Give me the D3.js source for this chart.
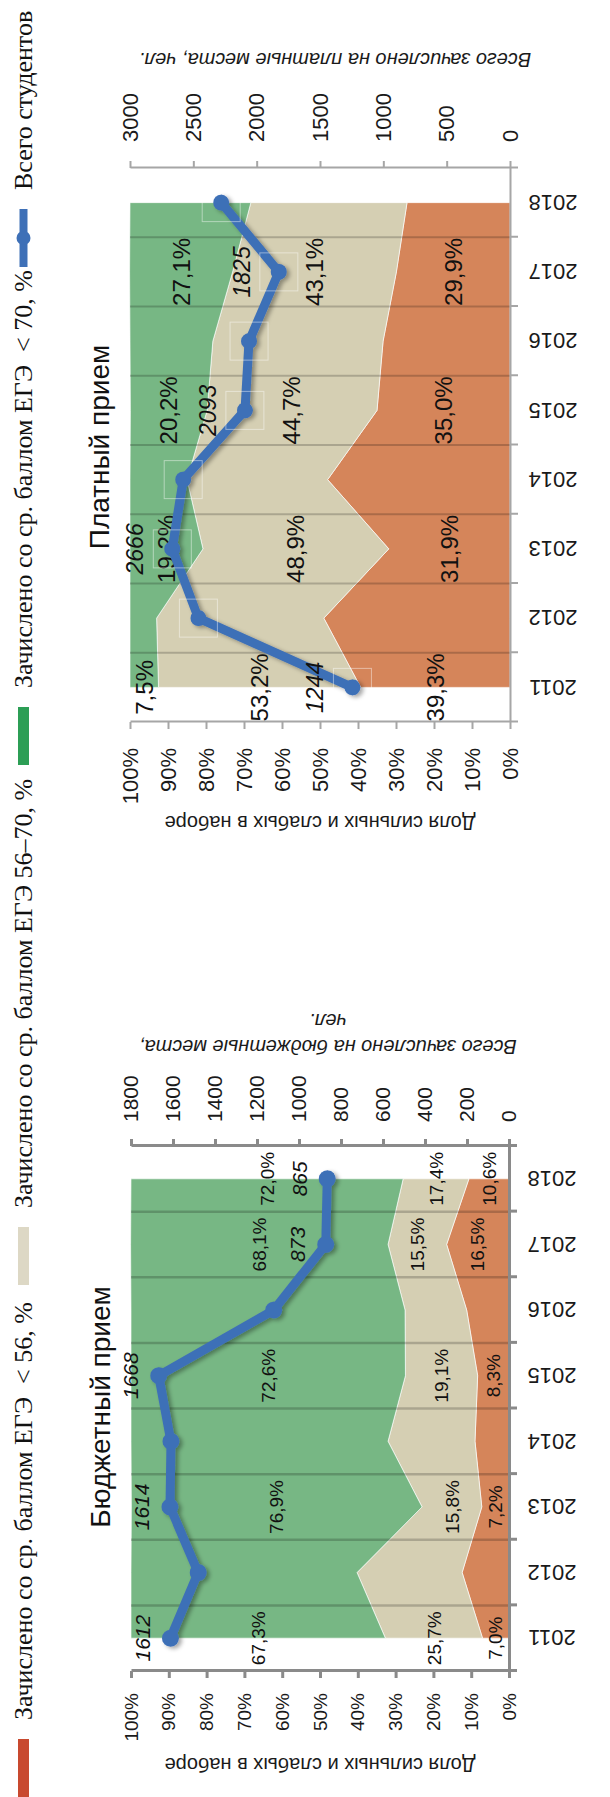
<!DOCTYPE html>
<html><head><meta charset="utf-8">
<script src="https://cdn.jsdelivr.net/npm/d3@7"></script>
<style>body{margin:0;background:#fff}svg{display:block}</style>
</head><body>
<svg id="c" width="610" height="1797"></svg>
<script>
// ---------- data ----------
const years = ["2011","2012","2013","2014","2015","2016","2017","2018"];
const budgetLow   = [7.0, 12.4, 7.2, 9.0, 8.3, 11.2, 16.5, 10.6];
const budgetMid   = [25.7, 27.8, 15.8, 23.0, 19.1, 16.3, 15.5, 17.4];
const budgetHigh  = [67.3, 59.8, 76.9, 68.0, 72.6, 72.5, 68.1, 72.0];
const budgetTotal = [1612, 1480, 1614, 1610, 1668, 1120, 873, 865];
const paidLow   = [39.3, 49.0, 31.9, 48.0, 35.0, 33.4, 29.9, 27.1];
const paidMid   = [53.2, 44.0, 48.9, 37.0, 44.7, 44.8, 43.1, 41.1];
const paidHigh  = [7.5, 7.0, 19.2, 15.0, 20.2, 21.8, 27.1, 31.8];
const paidTotal = [1244, 2460, 2666, 2580, 2093, 2060, 1825, 2280];
const budgetLabelYears = ["2011","2013","2015","2017","2018"];
const paidLabelYears = ["2011","2013","2015","2017"];
const seriesNames = ["Зачислено со ср. баллом ЕГЭ  < 56, %","Зачислено со ср. баллом ЕГЭ 56–70, %","Зачислено со ср. баллом ЕГЭ  < 70, %","Всего студентов"];
const pctTicks = d3.range(0, 101, 10);

// ---------- style ----------
const colors = {low:"#d5855a", mid:"#d5cfb3", high:"#77b784", line:"#3e70b7"};
const legendColors = ["#c8492f","#ddd8c5","#2c9e55","#3e70b7"];
const SANS = "'Liberation Sans', Arial, sans-serif";
const SERIF = "'Liberation Serif', 'Times New Roman', serif";
const fmtPct = v => d3.format(".1f")(v).replace(".", ",") + "%";

const svg = d3.select("#c");
const defs = svg.append("defs");
const f = defs.append("filter").attr("id","sh").attr("x","-50%").attr("y","-50%").attr("width","200%").attr("height","200%");
f.append("feDropShadow").attr("dx",-2).attr("dy",3).attr("stdDeviation",2).attr("flood-color","#000").attr("flood-opacity",0.35);

// whole landscape chart rotated into the portrait page
const g = svg.append("g").attr("transform","translate(0,1797) rotate(-90)");

function drawChart(cfg) {
  const data = years.map((y,i)=>({year:y, low:cfg.low[i], mid:cfg.mid[i], high:cfg.high[i], total:cfg.total[i]}));
  const band = d3.scaleBand().domain(years).range([cfg.x0, cfg.x1]);
  const xc = y => band(y) + band.bandwidth()/2;
  const bounds = d3.scaleLinear().domain([0, years.length]).range([cfg.x0, cfg.x1]);
  const yPct = d3.scaleLinear().domain([0,100]).range([cfg.yBot, cfg.yTop]);
  const yTot = d3.scaleLinear().domain([0,cfg.totMax]).range([cfg.yBot, cfg.yTop]);
  const stack = d3.stack().keys(["low","mid","high"])(data);
  const area = d3.area().x(d=>xc(d.data.year)).y0(d=>yPct(d[0])).y1(d=>yPct(d[1]));
  const cg = g.append("g");

  cg.selectAll("path.area").data(stack).join("path")
    .attr("d", area).attr("fill", s=>colors[s.key])
    .attr("stroke","#fff").attr("stroke-width",0.8).attr("stroke-opacity",0.8);

  // vertical gridlines (category boundaries)
  cg.selectAll("line.grid").data(d3.range(1, years.length)).join("line")
    .attr("x1", d=>bounds(d)).attr("x2", d=>bounds(d))
    .attr("y1", cfg.yTop).attr("y2", cfg.yBot)
    .attr("stroke", "rgba(0,0,0,0.2)").attr("stroke-width", cfg.gridW);

  function styleAxis(sel, fs) {
    sel.select(".domain").attr("stroke", cfg.axisColor).attr("stroke-width", cfg.axisW);
    sel.selectAll(".tick line").attr("stroke", cfg.axisColor).attr("stroke-width", cfg.axisW);
    sel.selectAll(".tick text").attr("fill","#1a1a1a").attr("font-size", fs).attr("font-family", SANS);
  }
  // left percent axis
  cg.append("g").attr("transform",`translate(${cfg.x0},0)`)
    .call(d3.axisLeft(yPct).tickValues(pctTicks).tickFormat(d=>d+"%").tickSize(7).tickSizeOuter(0).tickPadding(cfg.x0-cfg.pctEnd-7))
    .call(s=>styleAxis(s, cfg.pctFont));
  // right total axis
  cg.append("g").attr("transform",`translate(${cfg.x1},0)`)
    .call(d3.axisRight(yTot).tickValues(d3.range(0,cfg.totMax+1,cfg.totStep)).tickFormat(d3.format("d")).tickSize(7).tickSizeOuter(0).tickPadding(cfg.totStart-cfg.x1-7))
    .call(s=>styleAxis(s, cfg.totFont));
  // category axis
  cg.append("g").attr("transform",`translate(0,${cfg.yBot})`)
    .call(d3.axisBottom(bounds).tickValues(d3.range(0, years.length+1)).tickFormat("").tickSize(8).tickSizeOuter(0))
    .call(s=>styleAxis(s, 10));
  cg.selectAll("text.year").data(years).join("text")
    .attr("transform", y=>`translate(${xc(y)},${cfg.yearY}) rotate(-90)`)
    .attr("text-anchor","middle").attr("dy","0.35em")
    .attr("font-family",SANS).attr("font-size",cfg.yearFont).attr("fill","#1a1a1a").text(y=>y);

  // axis titles
  cg.append("text").attr("transform",`translate(${cfg.leftTitleX},${cfg.leftTitleY}) rotate(-90)`)
    .attr("text-anchor","middle").attr("dy","0.35em").attr("font-family",SANS).attr("font-size",cfg.axTitleFont)
    .attr("fill","#1a1a1a").text("Доля сильных и слабых в наборе");
  cfg.rightTitle.forEach((t,i)=>{
    cg.append("text").attr("transform",`translate(${cfg.rightTitleX + i*26},${cfg.rightTitleY}) rotate(-90)`)
      .attr("text-anchor","middle").attr("dy","0.35em").attr("font-family",SANS).attr("font-style","italic")
      .attr("font-size",cfg.axTitleFont).attr("fill","#1a1a1a").text(t);
  });
  // chart title
  cg.append("text").attr("x",cfg.titleX).attr("y",cfg.titleY).attr("text-anchor","middle")
    .attr("font-family",SANS).attr("font-size",28).attr("fill","#111").text(cfg.title);

  // percent labels
  const lab = [];
  stack.forEach(s=>s.forEach(d=>{ if (cfg.labelYears.includes(d.data.year)) lab.push({x:xc(d.data.year), y:yPct((d[0]+d[1])/2), v:d[1]-d[0]}); }));
  cg.selectAll("text.pct").data(lab).join("text")
    .attr("x",d=>d.x).attr("y",d=>d.y).attr("dy","0.35em").attr("text-anchor","middle")
    .attr("font-family",SANS).attr("font-size",cfg.dataFont).attr("fill","#111").text(d=>fmtPct(d.v));

  // total line
  const lg = cg.append("g").attr("filter","url(#sh)");
  lg.append("path").datum(data)
    .attr("d", d3.line().x(d=>xc(d.year)).y(d=>yTot(d.total)))
    .attr("fill","none").attr("stroke",colors.line).attr("stroke-width",cfg.lineW).attr("stroke-linejoin","round");
  lg.selectAll("circle").data(data).join("circle")
    .attr("cx",d=>xc(d.year)).attr("cy",d=>yTot(d.total)).attr("r",cfg.dotR).attr("fill",colors.line);
  if (cfg.boxes) {
    cg.selectAll("rect.box").data(data).join("rect")
      .attr("x",d=>xc(d.year)-19).attr("y",d=>yTot(d.total)-19).attr("width",38).attr("height",38)
      .attr("fill","none").attr("stroke","rgba(255,255,255,0.45)").attr("stroke-width",1);
  }
  cg.selectAll("text.cnt").data(data.filter(d=>cfg.labelYears.includes(d.year))).join("text")
    .attr("x",d=>xc(d.year)).attr("y",d=>yTot(d.total)-cfg.countOff).attr("dy","0.35em").attr("text-anchor","middle")
    .attr("font-family",SANS).attr("font-style","italic").attr("font-size",cfg.countFont).attr("fill","#111")
    .text(d=>d.total);
}

drawChart({low:budgetLow, mid:budgetMid, high:budgetHigh, total:budgetTotal, labelYears:budgetLabelYears,
  x0:126, x1:651, yTop:131, yBot:509, totMax:1800, totStep:200,
  pctEnd:104, totStart:675, pctFont:19, totFont:21, yearFont:22, yearY:552, dataFont:19, countFont:21, countOff:28,
  axTitleFont:20, leftTitleX:32, leftTitleY:320, rightTitle:["Всего зачислено на бюджетные места,","чел."], rightTitleX:750, rightTitleY:328,
  title:"Бюджетный прием", titleX:390, titleY:110, lineW:9, dotR:8.5, axisColor:"#8a8a8a", axisW:3, gridW:2.5, boxes:false});

drawChart({low:paidLow, mid:paidMid, high:paidHigh, total:paidTotal, labelYears:paidLabelYears,
  x0:1075, x1:1629, yTop:130, yBot:510, totMax:3000, totStep:500,
  pctEnd:1049, totStart:1655, pctFont:22, totFont:22, yearFont:22, yearY:553, dataFont:24, countFont:23, countOff:37,
  axTitleFont:20, leftTitleX:974, leftTitleY:320, rightTitle:["Всего зачислено на платные места, чел."], rightTitleX:1737, rightTitleY:335,
  title:"Платный прием", titleX:1350, titleY:109, lineW:9, dotR:8, axisColor:"#a6a6a6", axisW:2, gridW:2, boxes:true});

// ---------- legend ----------
const legendX = [0, 512, 1032, 1530];
const lgd = g.append("g");
seriesNames.forEach((name,i)=>{
  const x = legendX[i];
  if (i < 3) {
    lgd.append("rect").attr("x",x).attr("y",18).attr("width",58).attr("height",11).attr("fill",legendColors[i]);
  } else {
    lgd.append("line").attr("x1",x).attr("x2",x+58).attr("y1",23.5).attr("y2",23.5).attr("stroke",legendColors[i]).attr("stroke-width",8);
    lgd.append("circle").attr("cx",x+29).attr("cy",23.5).attr("r",7).attr("fill",legendColors[i]);
  }
  lgd.append("text").attr("x",x+77).attr("y",32).attr("font-family",SERIF).attr("font-size",26)
    .attr("fill","#111").attr("xml:space","preserve").text(name);
});
</script>
</body></html>
